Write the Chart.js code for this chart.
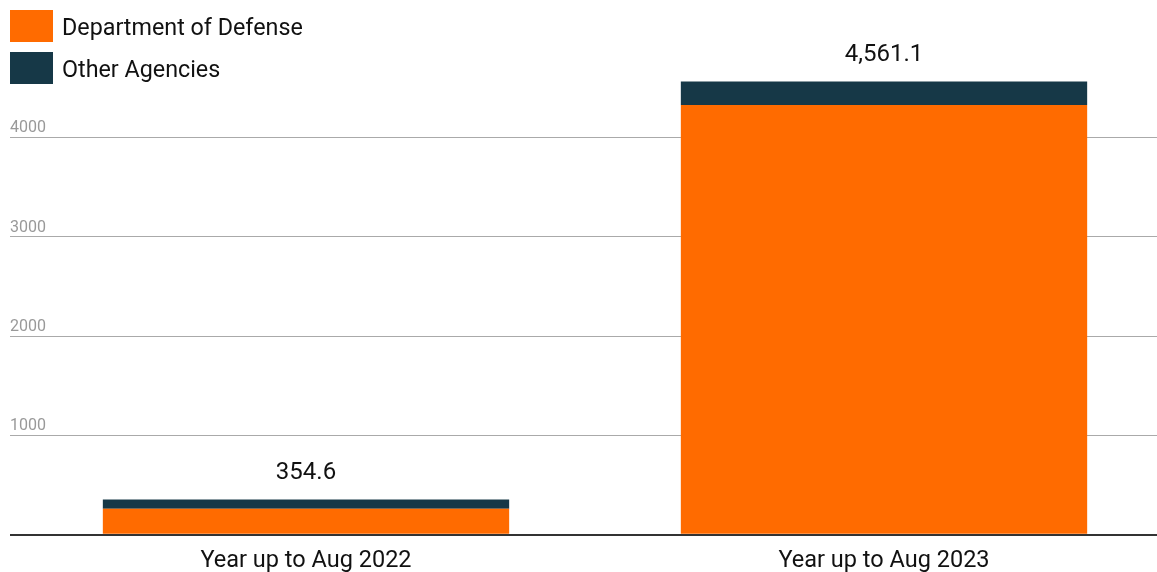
<!DOCTYPE html>
<html>
<head>
<meta charset="utf-8">
<script src="https://cdn.jsdelivr.net/npm/chart.js@4/dist/chart.umd.min.js"></script>
<style>
    html, body { margin: 0; padding: 0; background: #fff; overflow: hidden; }
    #wrap { position: relative; width: 1173px; height: 572px; }
    #legend { position: absolute; left: 10px; top: 10px; font-family: Roboto, sans-serif; font-size: 23.3px; color: #111; }
    .item { display: flex; align-items: center; height: 32px; margin-bottom: 10px; }
    .box { width: 43px; height: 32px; margin-right: 9px; }
    .item span:last-child { position: relative; top: 1px; }
</style>
</head>
<body>
<div id="wrap">
    <canvas id="chart" width="1173" height="572"></canvas>
    <div id="legend"></div>
</div>
<script>
// 데이터
const categories = ['Year up to Aug 2022', 'Year up to Aug 2023'];
const seriesNames = ['Department of Defense', 'Other Agencies'];
const dodValues = [261.0, 4326.0];
const otherValues = [93.6, 235.1];
const yTicks = [1000, 2000, 3000, 4000];
const colors = ['#ff6b00', '#163847'];

// 범례 (HTML)
const legendEl = document.getElementById('legend');
seriesNames.forEach((name, i) => {
    const item = document.createElement('div');
    item.className = 'item';
    item.innerHTML = `<span class="box" style="background:${colors[i]}"></span><span>${name}</span>`;
    legendEl.appendChild(item);
});

// 막대 위 합계 표시
const totalLabels = {
    id: 'totalLabels',
    afterDatasetsDraw(chart) {
        const ctx = chart.ctx;
        const topMeta = chart.getDatasetMeta(chart.data.datasets.length - 1);
        ctx.save();
        ctx.font = '24px Roboto, sans-serif';
        ctx.fillStyle = '#111';
        ctx.textAlign = 'center';
        ctx.textBaseline = 'bottom';
        topMeta.data.forEach((bar, i) => {
            const total = dodValues[i] + otherValues[i];
            const text = total.toLocaleString('en-US', { minimumFractionDigits: 1, maximumFractionDigits: 1 });
            ctx.fillText(text, bar.x, bar.y - 15);
        });
        ctx.restore();
    }
};

new Chart(document.getElementById('chart'), {
    type: 'bar',
    data: {
        labels: categories,
        datasets: [
            { label: seriesNames[0], data: dodValues, backgroundColor: colors[0], borderWidth: 0 },
            { label: seriesNames[1], data: otherValues, backgroundColor: colors[1], borderWidth: 0 }
        ]
    },
    options: {
        responsive: false,
        animation: false,
        devicePixelRatio: 1,
        layout: { padding: { left: 10, right: 0, top: 38, bottom: -15 } },
        categoryPercentage: 0.703,
        barPercentage: 1.0,
        scales: {
            x: {
                stacked: true,
                grid: { display: false, drawTicks: false },
                border: { display: false },
                ticks: {
                    padding: 12,
                    color: '#111',
                    font: { family: 'Roboto', size: 23.5, lineHeight: 1.2 }
                }
            },
            y: {
                stacked: true,
                min: 0,
                max: 5000,
                afterBuildTicks: (axis) => {
                    axis.ticks = [0, ...yTicks, 5000].map(v => ({ value: v }));
                },
                afterFit: (axis) => {
                    axis.width = 7;
                    axis.paddingTop = 0;
                    axis.paddingBottom = 0;
                },
                grid: {
                    drawTicks: true,
                    tickLength: 7,
                    color: (c) => c.tick.value === 0 ? '#333' : (c.tick.value === 5000 ? 'rgba(0,0,0,0)' : '#aaa'),
                    lineWidth: (c) => c.tick.value === 0 ? 2 : 1
                },
                border: { display: false },
                ticks: {
                    mirror: true,
                    padding: -7,
                    labelOffset: -9,
                    color: '#999',
                    font: { family: 'Roboto', size: 16 },
                    callback: (v) => yTicks.includes(v) ? String(v) : ''
                }
            }
        },
        plugins: {
            legend: { display: false },
            tooltip: { enabled: false }
        }
    },
    plugins: [totalLabels]
});
</script>
</body>
</html>
